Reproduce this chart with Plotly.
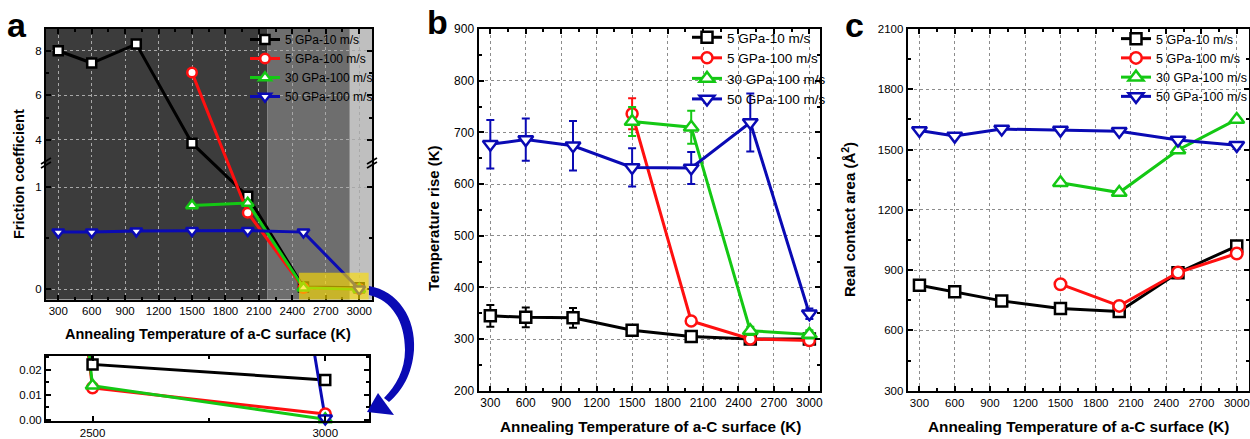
import plotly.graph_objects as go

W, H = 1250, 439
FONT = "Liberation Sans, Arial, sans-serif"

# ---------------- data ----------------
temps_all = [300, 600, 1000, 1500, 2000, 2500, 3000]
temps_hi = [1500, 2000, 2500, 3000]

names = ["5 GPa-10 m/s", "5 GPa-100 m/s", "30 GPa-100 m/s", "50 GPa-100 m/s"]
colors = ["#000000", "#ff1010", "#14c814", "#0a0ab4"]
symbols = ["square", "circle", "triangle-up", "triangle-down"]
xs = [temps_all, temps_hi, temps_hi, temps_all]

# (a) friction coefficient
fric_5_10 = [8.0, 7.45, 8.3, 3.85, 0.91, 0.0222, 0.016]
fric_5_100 = [7.02, 0.75, 0.0128, 0.0023]
fric_30_100 = [0.82, 0.845, 0.0137, 0.0002]
fric_50_100 = [0.56, 0.56, 0.57, 0.575, 0.575, 0.56, 0.0005]

# (b) temperature rise (K) with error bars
temp_5_10 = [345, 342, 341, 317, 305, 300, 300]
temp_5_10_err = [21, 19, 19, 5, 8, 3, 3]
temp_5_100 = [736, 335, 300, 297]
temp_5_100_err = [30, 5, 8, 8]
temp_30_100 = [721, 710, 316, 309]
temp_30_100_err = [28, 32, 8, 8]
temp_50_100 = [677, 686, 674, 632, 631, 719, 349]
temp_50_100_err = [47, 41, 48, 37, 31, 56, 10]

# (c) real contact area (A^2)
area_5_10 = [825, 792, 747, 709, 694, 887, 1020]
area_5_100 = [830, 722, 888, 983]
area_30_100 = [1335, 1286, 1498, 1650]
area_50_100 = [1595, 1567, 1602, 1597, 1591, 1548, 1521]

fric = [fric_5_10, fric_5_100, fric_30_100, fric_50_100]
temp = [temp_5_10, temp_5_100, temp_30_100, temp_50_100]
temp_err = [temp_5_10_err, temp_5_100_err, temp_30_100_err, temp_50_100_err]
area = [area_5_10, area_5_100, area_30_100, area_50_100]

xlabels = [300, 600, 900, 1200, 1500, 1800, 2100, 2400, 2700, 3000]
fric_ticks = [0, 1, 4, 6, 8]
fric_minor = [0.5, 5, 7]

# broken y axis of panel a: lower segment 0..BRK_LO, upper segment from BRK_HI
BRK_LO, BRK_HI, UP_SCALE = 1.235, 2.953, 22.25 / 102.0


def brk(v):
    return v if v <= BRK_LO else BRK_LO + (v - BRK_HI) * UP_SCALE


def px(x):
    return x / W


def py(y):
    return 1 - y / H


INSET_X0 = 2400

# ---------------- figure ----------------
fig = go.Figure()

sizes_a = [9, 9.5, 10.5, 10.5]
sizes_i = [10, 11, 12, 12]
sizes_b = [11, 11, 13, 13]
sizes_c = [11, 11.5, 13, 13]

for i in range(4):
    fig.add_trace(go.Scatter(
        x=xs[i], y=[brk(v) for v in fric[i]], mode="lines+markers", name=names[i],
        line=dict(color=colors[i], width=3),
        marker=dict(symbol=symbols[i], size=sizes_a[i], color="white",
                    line=dict(color=colors[i], width=2.5)),
        xaxis="x", yaxis="y", legend="legend", cliponaxis=False))

# inset (zoom of panel a near zero)
for i in range(4):
    fig.add_trace(go.Scatter(
        x=xs[i], y=fric[i], mode="lines", showlegend=False,
        line=dict(color=colors[i], width=3), xaxis="x2", yaxis="y2"))
for i in range(4):
    pts = [(x, v) for x, v in zip(xs[i], fric[i]) if x >= INSET_X0 + 100]
    fig.add_trace(go.Scatter(
        x=[p[0] for p in pts], y=[p[1] for p in pts], mode="markers", showlegend=False,
        marker=dict(symbol=symbols[i], size=sizes_i[i], color="white",
                    line=dict(color=colors[i], width=2.5)),
        xaxis="x2", yaxis="y2", cliponaxis=False))

for i in range(4):
    fig.add_trace(go.Scatter(
        x=xs[i], y=temp[i], mode="lines+markers", name=names[i],
        line=dict(color=colors[i], width=3),
        marker=dict(symbol=symbols[i], size=sizes_b[i], color="white",
                    line=dict(color=colors[i], width=2.5)),
        error_y=dict(type="data", array=temp_err[i], color=colors[i], thickness=2, width=4),
        xaxis="x3", yaxis="y3", legend="legend2", cliponaxis=False))

for i in range(4):
    fig.add_trace(go.Scatter(
        x=xs[i], y=area[i], mode="lines+markers", name=names[i],
        line=dict(color=colors[i], width=3),
        marker=dict(symbol=symbols[i], size=sizes_c[i], color="white",
                    line=dict(color=colors[i], width=2.5)),
        xaxis="x4", yaxis="y4", legend="legend3", cliponaxis=False))


def frame(**kw):
    d = dict(showline=True, linewidth=2, linecolor="black", mirror="allticks",
             ticks="inside", ticklen=5, tickwidth=2, tickcolor="black", zeroline=False,
             showgrid=False, tickfont=dict(family=FONT, size=12, color="black"))
    d.update(kw)
    return d


grid_b = dict(showgrid=True, gridcolor="#8c8c8c", griddash="dot", gridwidth=1)
grid_a = dict(showgrid=True, gridcolor="#a8a8a8", griddash="dot", gridwidth=1)
minor_x = dict(ticks="inside", ticklen=3, tickwidth=2, tickcolor="black", dtick=150, tick0=150, showgrid=False)

layout = dict(
    width=W, height=H, margin=dict(l=0, r=0, t=0, b=0, autoexpand=False),
    paper_bgcolor="white", plot_bgcolor="white",
    font=dict(family=FONT, color="black"),
    xaxis=frame(domain=[px(46), px(372)], range=[190, 3115], anchor="y",
                tickmode="array", tickvals=xlabels, minor=minor_x,
                tickfont=dict(family=FONT, size=11.5, color="black"), **grid_a),
    yaxis=frame(domain=[py(299.5), py(28.5)], range=[brk(-0.1), brk(9.0)], anchor="x",
                tickmode="array", tickvals=[brk(v) for v in fric_ticks],
                ticktext=[str(v) for v in fric_ticks],
                minor=dict(ticks="inside", ticklen=3, tickwidth=2, tickcolor="black",
                           tickvals=[brk(v) for v in fric_minor], showgrid=False),
                tickfont=dict(family=FONT, size=11.5, color="black"), **grid_a),
    xaxis2=frame(domain=[px(46), px(369)], range=[INSET_X0, 3094], anchor="y2",
                 tick0=2500, dtick=500,
                 minor=dict(ticks="inside", ticklen=3, tickwidth=2, tickcolor="black", dtick=250, tick0=2500),
                 tickfont=dict(family=FONT, size=11.5, color="black")),
    yaxis2=frame(domain=[py(421), py(355.7)], range=[-0.0005, 0.0257], anchor="x2",
                 tick0=0, dtick=0.01, tickformat=".2f",
                 minor=dict(ticks="inside", ticklen=3, tickwidth=2, tickcolor="black", dtick=0.005),
                 tickfont=dict(family=FONT, size=11.5, color="black")),
    xaxis3=frame(domain=[px(478.5), px(820)], range=[200, 3090], anchor="y3",
                 tickmode="array", tickvals=xlabels, minor=minor_x, **grid_b),
    yaxis3=frame(domain=[py(390.7), py(29)], range=[200, 900], anchor="x3",
                 tick0=200, dtick=100,
                 minor=dict(ticks="inside", ticklen=3, tickwidth=2, tickcolor="black", dtick=50),
                 **grid_b),
    xaxis4=frame(domain=[px(907.7), px(1248.5)], range=[200, 3100], anchor="y4",
                 tickmode="array", tickvals=xlabels, minor=minor_x,
                 tickfont=dict(family=FONT, size=11.5, color="black"), **grid_b),
    yaxis4=frame(domain=[py(390.7), py(29)], range=[300, 2100], anchor="x4",
                 tick0=300, dtick=300,
                 minor=dict(ticks="inside", ticklen=3, tickwidth=2, tickcolor="black", dtick=150),
                 tickfont=dict(family=FONT, size=11.5, color="black"), **grid_b),
    legend=dict(x=px(245), y=py(25), xanchor="left", yanchor="top", bgcolor="rgba(0,0,0,0)",
                font=dict(family=FONT, size=12, color="black"), tracegroupgap=0, itemwidth=30),
    legend2=dict(x=px(687), y=py(22), xanchor="left", yanchor="top", bgcolor="rgba(0,0,0,0)",
                 font=dict(family=FONT, size=13.5, color="black"), tracegroupgap=0, itemwidth=30),
    legend3=dict(x=px(1116), y=py(24), xanchor="left", yanchor="top", bgcolor="rgba(0,0,0,0)",
                 font=dict(family=FONT, size=12.5, color="black"), tracegroupgap=0, itemwidth=30),
)
fig.update_layout(**layout)

# ---------- panel a background shading ----------
shades = [(190, 2175, "#3c3c3c"), (2175, 2916, "#6e6e6e"), (2916, 3115, "#bfbfbf")]
shapes = []
for x0, x1, c in shades:
    shapes.append(dict(type="rect", xref="x", yref="y domain", x0=x0, x1=x1, y0=0, y1=1,
                       fillcolor=c, line=dict(width=0), layer="below"))
# highlighted region (zoomed in inset)
shapes.append(dict(type="rect", xref="x", yref="y", x0=2460, x1=3085, y0=-0.2, y1=0.163,
                   fillcolor="rgba(255,222,0,0.62)", line=dict(width=0), layer="above"))

# axis break marks
for xb in (46, 372):
    for dy in (-2, 2):
        shapes.append(dict(type="line", xref="paper", yref="paper",
                           x0=px(xb - 5), y0=py(166 + dy), x1=px(xb + 5), y1=py(160 + dy),
                           line=dict(color="black", width=1.6)))


def path(cmds):
    out = []
    for c in cmds:
        if isinstance(c, str):
            out.append(c)
        else:
            out.append("%.5f,%.5f" % (px(c[0]), py(c[1])))
    return " ".join(out)


arrow_body = path(["M", (369, 286), "C", (398, 291), (416, 318), (414, 350),
                   "C", (412, 375), (402, 391), (389, 402), "L", (384, 398),
                   "C", (396, 386), (405, 370), (405, 350),
                   "C", (405, 322), (392, 300), (369, 295), "Z"])
arrow_head = path(["M", (367, 412), "L", (378, 393), "L", (394, 415), "Z"])
for p in (arrow_body, arrow_head):
    shapes.append(dict(type="path", xref="paper", yref="paper", path=p,
                       fillcolor="#0a0ab4", line=dict(width=0), layer="above"))

fig.update_layout(shapes=shapes)

# ---------- text ----------
ann = []


def text(x, y, s, size, bold=True, angle=0):
    ann.append(dict(x=px(x), y=py(y), xref="paper", yref="paper", text=("<b>%s</b>" % s) if bold else s,
                    showarrow=False, xanchor="center", yanchor="middle", textangle=angle,
                    font=dict(family=FONT, size=size, color="black")))


text(17, 25, "a", 34)
text(437, 22, "b", 34)
text(854, 25, "c", 34)
text(19, 174, "Friction coefficient", 14.5, angle=-90)
text(434, 218, "Temperature rise (K)", 15, angle=-90)
text(848, 220, "Real contact area (Å<sup>2</sup>)", 15, angle=-90)
text(208, 334, "Annealing Temperature of a-C surface (K)", 14.5)
text(650, 426, "Annealing Temperature of a-C surface (K)", 15.3)
text(1078, 426, "Annealing Temperature of a-C surface (K)", 15.3)
fig.update_layout(annotations=ann)

fig.write_html("out.html", config={"displayModeBar": False},
               post_script="document.body.style.margin='0px';")
